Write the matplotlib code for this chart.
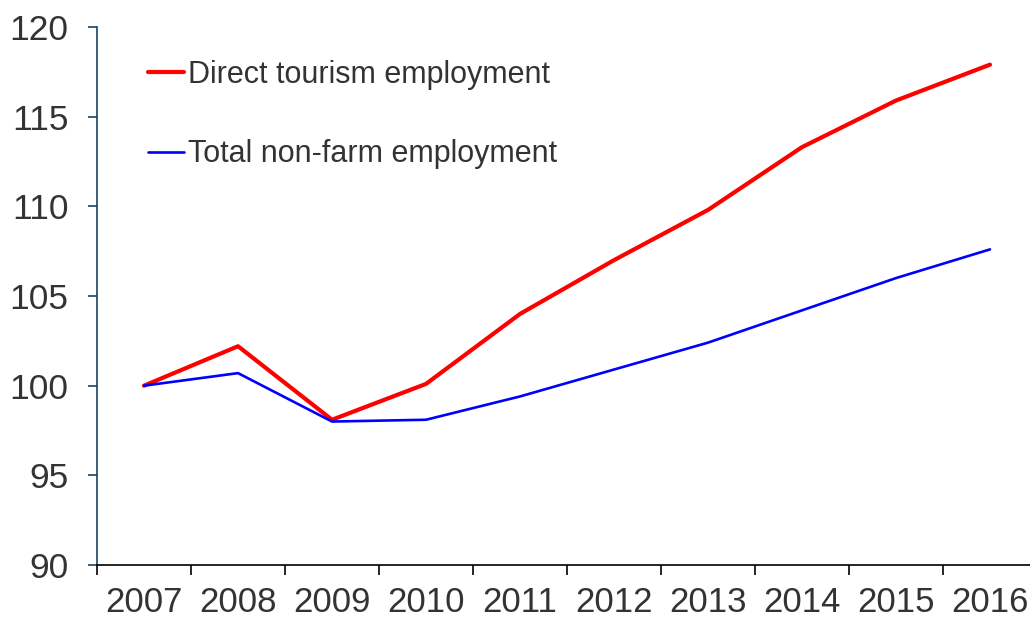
import matplotlib
matplotlib.use('Agg')
import matplotlib.pyplot as plt
import numpy as np

years = ['2007', '2008', '2009', '2010', '2011', '2012', '2013', '2014', '2015', '2016']
tourism = [100.0, 102.2, 98.1, 100.1, 104.0, 107.0, 109.8, 113.3, 115.9, 117.9]
nonfarm = [100.0, 100.7, 98.0, 98.1, 99.4, 100.9, 102.4, 104.2, 106.0, 107.6]

plt.rcParams['font.family'] = ['Liberation Sans', 'DejaVu Sans']

fig = plt.figure(figsize=(10.30, 6.19), dpi=100)
ax = fig.add_axes([0.0942, 0.0872, 0.9126, 0.8692])

x = np.arange(len(years))
ax.plot(x, tourism, color='#FF0000', lw=3.0, label='Direct tourism employment', solid_capstyle='round')
ax.plot(x, nonfarm, color='#0000FF', lw=1.9, label='Total non-farm employment', solid_capstyle='round')

ax.set_xlim(-0.5, len(years) - 0.5)
ax.set_ylim(90, 120)
ax.set_yticks(range(90, 121, 5))
ax.set_xticks(x)
ax.set_xticklabels(years)
ax.set_xticks(np.arange(-0.5, len(years), 1.0), minor=True)

for s in ['top', 'right']:
    ax.spines[s].set_visible(False)
ax.spines['left'].set_color('#1B4460')
ax.spines['left'].set_linewidth(1.2)
ax.spines['bottom'].set_color('black')
ax.spines['bottom'].set_linewidth(1.2)

ax.tick_params(axis='y', direction='out', length=6.5, width=1.2, color='#1B4460',
               labelsize=25.5, labelcolor='#333333', pad=14)
ax.tick_params(axis='x', which='major', length=0, labelsize=25, labelcolor='#333333', pad=15)
ax.tick_params(axis='x', which='minor', direction='out', length=7, width=1.2, color='black')

ax.legend(loc='upper left', bbox_to_anchor=(0.054, 0.939), frameon=False, fontsize=22,
          borderpad=0, borderaxespad=0,
          handlelength=1.2, handletextpad=0.12, labelspacing=1.62, labelcolor='#333333')

fig.savefig('out.png', dpi=100)
